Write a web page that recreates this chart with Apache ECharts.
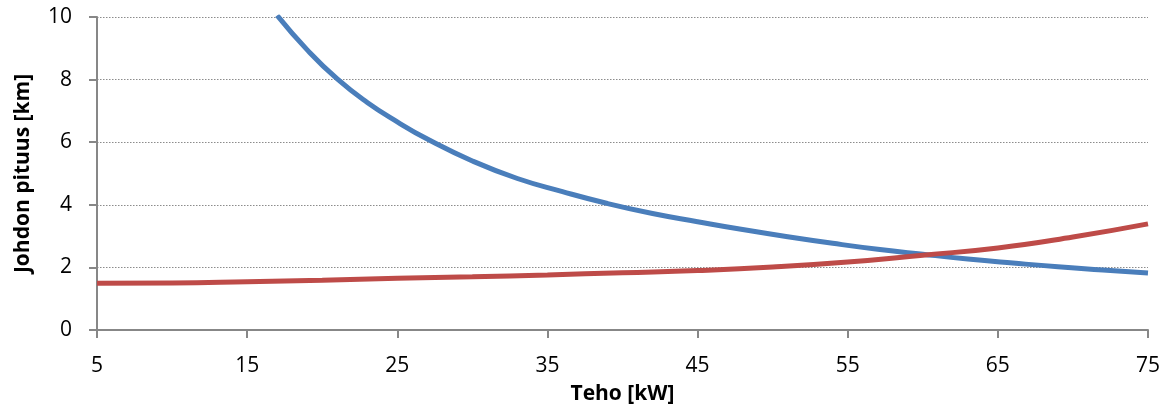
<!DOCTYPE html>
<html>
<head>
<meta charset="utf-8">
<script src="https://cdn.jsdelivr.net/npm/echarts@6/dist/echarts.min.js"></script>
<style>
  html, body { margin: 0; padding: 0; background: #fff; }
  #chart { width: 1173px; height: 410px; }
</style>
</head>
<body>
<div id="chart"></div>
<script>
// Power (kW) vs. maximum line length (km)
var bluePower = [17, 19, 21, 23, 25, 27, 30, 33, 36, 39, 42, 45, 48, 51, 54, 57, 60, 63, 66, 69, 72, 75];
var blueLength = [10.05, 8.95, 8.02, 7.27, 6.65, 6.10, 5.40, 4.84, 4.42, 4.04, 3.72, 3.46, 3.21, 2.98, 2.77, 2.58, 2.42, 2.27, 2.14, 2.02, 1.92, 1.82];

var redPower = [5, 10, 15, 20, 25, 30, 35, 40, 45, 50, 55, 60, 65, 70, 75];
var redLength = [1.49, 1.50, 1.54, 1.59, 1.65, 1.70, 1.76, 1.83, 1.90, 2.01, 2.17, 2.39, 2.62, 2.97, 3.39];

var xTitle = 'Teho [kW]';
var yTitle = 'Johdon pituus [km]';

function pairs(xs, ys) {
  return xs.map(function (x, i) { return [x, ys[i]]; });
}

var font = '"Open Sans", Lato, sans-serif';
var axisGrey = '#878787';
var chart = echarts.init(document.getElementById('chart'), null, { renderer: 'canvas' });
chart.setOption({
  animation: false,
  grid: { left: 97, right: 25, top: 17, bottom: 79, containLabel: false },
  xAxis: {
    type: 'value',
    min: 5, max: 75, interval: 10,
    name: xTitle,
    nameLocation: 'middle',
    nameGap: 54,
    nameTextStyle: { fontFamily: font, fontWeight: 'bold', fontSize: 21, color: '#000' },
    axisLine: { show: true, lineStyle: { color: axisGrey, width: 2 } },
    axisTick: { show: true, length: 8, lineStyle: { color: axisGrey, width: 2 } },
    axisLabel: { fontFamily: font, fontSize: 21, color: '#000', margin: 26 },
    splitLine: { show: false }
  },
  yAxis: {
    type: 'value',
    min: 0, max: 10, interval: 2,
    name: yTitle,
    nameLocation: 'middle',
    nameGap: 63,
    nameRotate: 90,
    nameTextStyle: { fontFamily: font, fontWeight: 'bold', fontSize: 21, color: '#000' },
    axisLine: { show: true, lineStyle: { color: axisGrey, width: 2 } },
    axisTick: { show: true, length: 8, lineStyle: { color: axisGrey, width: 2 } },
    axisLabel: { fontFamily: font, fontSize: 21, color: '#000', margin: 25 },
    splitLine: { show: true, lineStyle: { color: '#8c8c8c', width: 1.2, type: [1.5, 1.5] } }
  },
  series: [
    {
      type: 'line',
      data: pairs(bluePower, blueLength),
      smooth: 0.5,
      symbol: 'none',
      clip: true,
      lineStyle: { color: '#4a7ebb', width: 5 }
    },
    {
      type: 'line',
      data: pairs(redPower, redLength),
      smooth: 0.5,
      symbol: 'none',
      clip: true,
      lineStyle: { color: '#be4b48', width: 5 }
    }
  ]
});
</script>
</body>
</html>
